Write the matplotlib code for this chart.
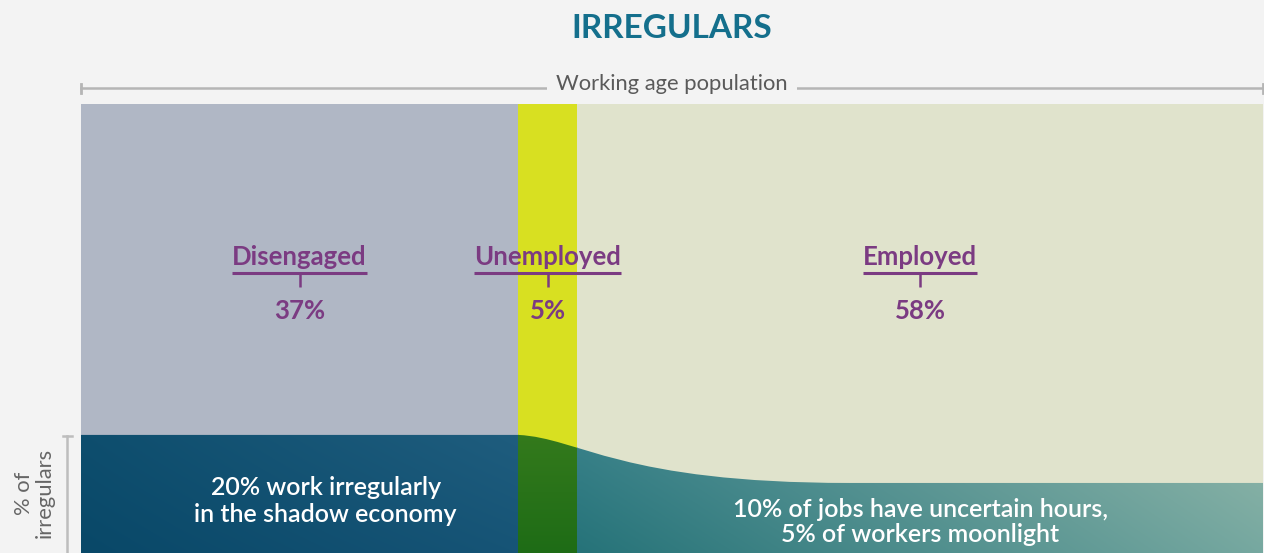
import numpy as np
import matplotlib
matplotlib.use('Agg')
import matplotlib.pyplot as plt
from matplotlib.path import Path
from matplotlib.patches import PathPatch

# working age population split (%)
categories = ['Disengaged', 'Unemployed', 'Employed']
shares = [37, 5, 58]
pct_labels = ['37%', '5%', '58%']
col_colors = ['#b0b7c5', '#d8e021', '#e0e3cc']

# top of the "irregulars" band (axis units)
irreg_top_left = 26.3    # shadow economy band over disengaged/unemployed
irreg_top_right = 15.6   # uncertain hours / moonlighting band over employed

band_text_left = '20% work irregularly\nin the shadow economy'
band_text_right = '10% of jobs have uncertain hours,\n5% of workers moonlight'

plt.rcParams['font.family'] = ['Lato', 'DejaVu Sans']
bg = '#f3f3f3'
purple = '#7b3b82'
grey_line = '#b5b5b5'

W, H = 1264, 553
fig = plt.figure(figsize=(W / 100, H / 100), dpi=100, facecolor=bg)
ax = fig.add_axes([81 / W, 0, 1182 / W, 449 / H])
ax.set_facecolor(bg)

# population columns
lefts = np.concatenate([[0], np.cumsum(shares)[:-1]])
ax.bar(lefts, [100] * len(shares), width=shares, align='edge',
       color=col_colors, edgecolor='none')

# irregulars band outline (flat, then smooth drop into employed)
x0 = lefts[1]
verts = [(0, 0), (0, irreg_top_left), (x0, irreg_top_left),
         (x0 + 5.2, irreg_top_left - 0.7), (x0 + 8.6, irreg_top_right), (x0 + 28, irreg_top_right),
         (100, irreg_top_right), (100, 0), (0, 0)]
codes = [Path.MOVETO, Path.LINETO, Path.LINETO,
         Path.CURVE4, Path.CURVE4, Path.CURVE4,
         Path.LINETO, Path.LINETO, Path.CLOSEPOLY]
band = PathPatch(Path(verts, codes), facecolor='none', edgecolor='none')
ax.add_patch(band)


def grad(tl, tr, bl, br, n=80):
    c = [np.array(v) / 255 for v in (tl, tr, bl, br)]
    u = np.linspace(0, 1, n)[None, :, None]
    v = np.linspace(0, 1, n)[:, None, None]
    top = c[0] * (1 - u) + c[1] * u
    bot = c[2] * (1 - u) + c[3] * u
    return top * (1 - v) + bot * v


grads = [grad((14, 78, 110), (31, 93, 126), (9, 72, 104), (22, 84, 118)),
         grad((52, 122, 28), (52, 122, 28), (30, 108, 22), (30, 108, 22)),
         grad((58, 130, 138), (142, 181, 168), (38, 115, 121), (118, 168, 160))]
for i in range(len(shares)):
    im = ax.imshow(grads[i], extent=(lefts[i], lefts[i] + shares[i], 0, irreg_top_left + 0.5),
                   origin='upper', aspect='auto', interpolation='bilinear', zorder=2)
    im.set_clip_path(band)

ax.set_xlim(0, 100)
ax.set_ylim(0, 100)
ax.axis('off')

# category labels
lab_texts = []
for i, name in enumerate(categories):
    cx = lefts[i] + shares[i] / 2
    t = ax.text(cx, 64.2, name, ha='center', va='baseline', fontsize=18.5,
                fontweight='bold', color=purple, zorder=5)
    lab_texts.append(t)
    ax.plot([cx, cx], [62.4, 59.3], color=purple, lw=1.8, zorder=5, solid_capstyle='butt')
    ax.text(cx, 53.9, pct_labels[i], ha='center', va='center', fontsize=18.5,
            fontweight='bold', color=purple, zorder=5)

fig.canvas.draw()
r = fig.canvas.get_renderer()
inv = ax.transData.inverted()
for t in lab_texts:
    bb = t.get_window_extent(renderer=r)
    xa = inv.transform((bb.x0, 0))[0]
    xb = inv.transform((bb.x1, 0))[0]
    ax.plot([xa, xb], [62.4, 62.4], color=purple, lw=2.2, zorder=5, solid_capstyle='butt')

# band annotations
ax.text(20.7, 11.6, band_text_left, ha='center', va='center', fontsize=18,
        fontweight='semibold', color='white', linespacing=1.2, zorder=6)
ax.text(71, 6.9, band_text_right, ha='center', va='center', fontsize=18,
        fontweight='semibold', color='white', linespacing=1.12, zorder=6)

# working age population bracket
yb = 103.56
ax.plot([0, 100], [yb, yb], color=grey_line, lw=1.8, clip_on=False)
ax.plot([0, 0], [yb - 1.0, yb + 1.0], color=grey_line, lw=2, clip_on=False)
ax.plot([100, 100], [yb - 1.0, yb + 1.0], color=grey_line, lw=2, clip_on=False)
ax.text(50.0, yb + 1.0, 'Working age population', ha='center', va='center', fontsize=15.8,
        color='#5a5a5a', clip_on=False,
        bbox=dict(boxstyle='square,pad=0.4', facecolor=bg, edgecolor='none'))

# irregulars side axis
xt = -1.18
ax.plot([xt, xt], [0, 26.1], color='#bdbdbd', lw=1.8, clip_on=False)
ax.plot([xt - 0.38, xt + 0.38], [26.1, 26.1], color='#bdbdbd', lw=1.8, clip_on=False)
fig.text(34 / W, 1 - 493 / H, '% of\nirregulars', rotation=90, ha='center', va='center',
         fontsize=15.8, color='#666666', multialignment='center', linespacing=1.05)

fig.text(672 / W, 1 - 28 / H, 'IRREGULARS', ha='center', va='center', fontsize=24,
         fontweight='bold', color='#146f8c')

fig.savefig('out.png', dpi=100, facecolor=bg)
